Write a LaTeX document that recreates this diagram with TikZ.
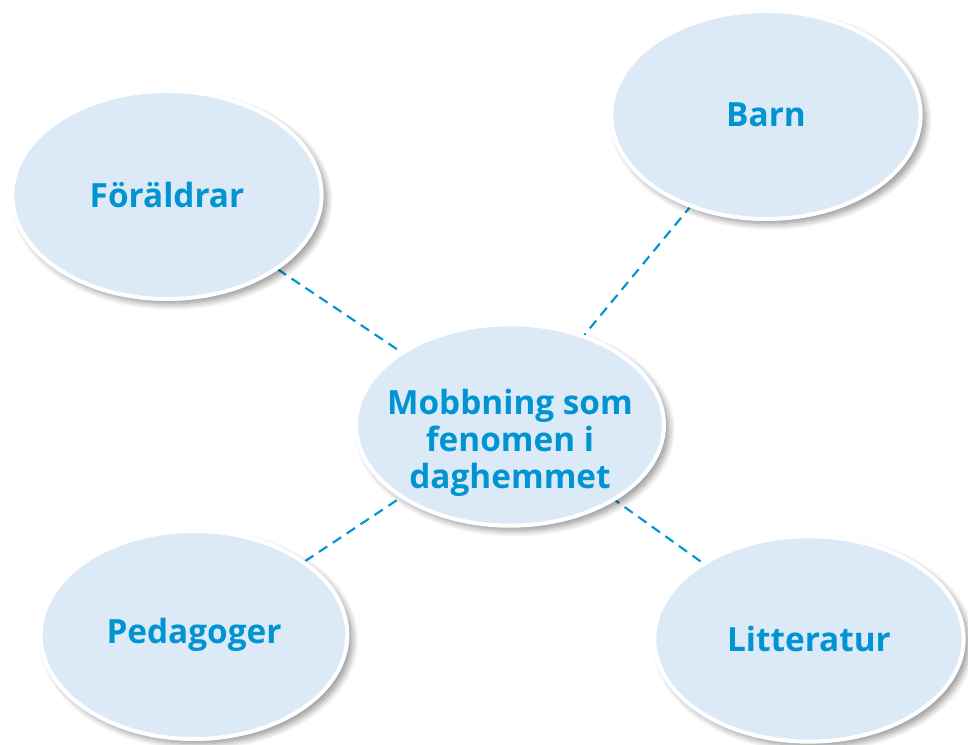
\documentclass[tikz,border=0pt]{standalone}
\usepackage{fontspec}
\setmainfont{Open Sans}
\usetikzlibrary{shapes.geometric,shadows.blur}
\definecolor{bubblefill}{RGB}{220,233,246}
\definecolor{textblue}{RGB}{0,148,210}
\begin{document}
\begin{tikzpicture}[x=0.75pt,y=-0.75pt,
  bubble/.style={ellipse, draw=white, line width=3pt, fill=bubblefill, inner sep=0pt,
    text=textblue, font=\fontsize{25}{27.75}\selectfont\bfseries, align=center,
    blur shadow={shadow xshift=3.5pt, shadow yshift=-3.5pt, shadow blur steps=10, shadow opacity=45, shadow blur radius=5pt}},
  bubbletext/.style={inner sep=0pt, text=textblue, font=\fontsize{25}{27.75}\selectfont\bfseries, align=center},
  link/.style={draw=textblue, line width=1.6pt, dash pattern=on 7.5pt off 5pt}]
\path[use as bounding box] (0,0) rectangle (968,745);
\coordinate (cC) at (510,425);
\coordinate (cF) at (167,195);
\coordinate (cB) at (766,115);
\coordinate (cP) at (194,635);
\coordinate (cL) at (809,639);
\draw[link] (cF) -- (cC);
\draw[link] (cB) -- (cC);
\draw[link] (cP) -- (cC);
\draw[link] (cL) -- (cC);
\node[bubble, minimum width=232pt, minimum height=156pt] (F) at (cF) {Föräldrar};
\node[bubble, minimum width=232pt, minimum height=156pt] (B) at (cB) {Barn};
\node[bubble, minimum width=230pt, minimum height=156pt] (P) at (cP) {Pedagoger};
\node[bubble, minimum width=232pt, minimum height=154pt] (L) at (cL) {Litteratur};
\node[bubble, minimum width=231pt, minimum height=151pt] (C) at (cC) {};
\node[bubbletext] (Ct) at ([yshift=-13.5pt]C.center) {Mobbning som\\fenomen i\\daghemmet};
\end{tikzpicture}
\end{document}
